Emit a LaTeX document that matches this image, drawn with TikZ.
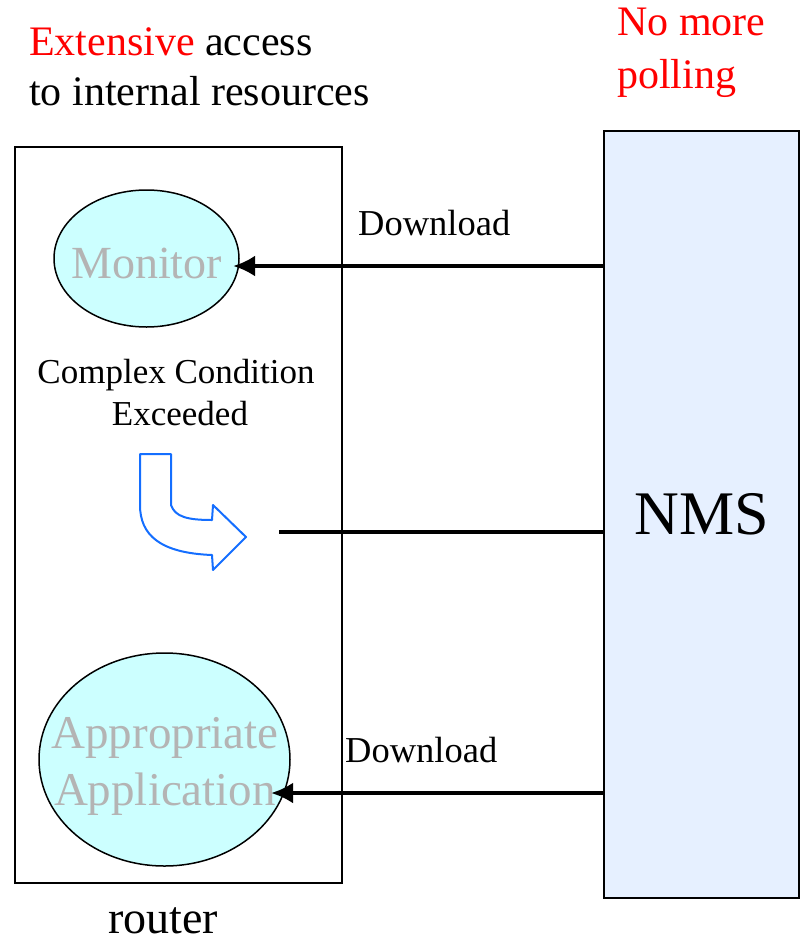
\documentclass[tikz,border=0pt]{standalone}
\usepackage{fontspec}
\setmainfont{Liberation Serif}
\usetikzlibrary{arrows.meta,shapes.geometric}

\definecolor{cellcyan}{RGB}{204,255,255}
\definecolor{nmsblue}{RGB}{230,240,255}
\definecolor{labelgray}{RGB}{180,180,180}
\definecolor{turnblue}{RGB}{20,110,255}

\tikzset{
  txt/.style={inner sep=0pt, anchor=base west},
  unit/.style={ellipse, draw, line width=1.5pt, fill=cellcyan, inner sep=0pt},
  unitlbl/.style={text=labelgray, inner sep=0pt, align=center},
  dl/.style={line width=4pt, -{Latex[length=22pt,width=21pt]}}
}

\begin{document}
\begin{tikzpicture}[x=1pt,y=-1pt]
\useasboundingbox (0,0) rectangle (801,943);

\node[draw, line width=2pt, minimum width=327pt, minimum height=736pt] (router) at (178.5,515) {};
\node[draw, line width=2.5pt, fill=nmsblue, minimum width=195pt, minimum height=767pt,
  font=\fontsize{62}{70}\selectfont] (nms) at (701.5,514.5) {NMS};

\node[unit, minimum width=185pt, minimum height=137pt] (mon) at (146.5,258.5) {};
\node[unitlbl, font=\fontsize{46}{52}\selectfont] (monlbl) at (146.5,263) {Monitor};
\node[unit, minimum width=251pt, minimum height=213pt] (app) at (164.5,759.5) {};
\node[unitlbl, font=\fontsize{47}{57}\selectfont] (applbl) at (165,766) {Appropriate\\Application};

\node[txt, font=\fontsize{42}{50}\selectfont] (ext) at (29,55) {\textcolor{red}{Extensive} access};
\node[txt, font=\fontsize{42}{50}\selectfont] (res) at (29,105) {to internal resources};
\node[txt, text=red, font=\fontsize{42}{50}\selectfont] (nomore) at (617,35) {No more};
\node[txt, text=red, font=\fontsize{42}{50}\selectfont] (poll) at (617,88) {polling};

\node[txt, anchor=base, font=\fontsize{35}{42}\selectfont] (cond) at (176,383) {Complex Condition};
\node[txt, anchor=base, font=\fontsize{35}{42}\selectfont] (exc) at (180,425) {Exceeded};
\node[txt, font=\fontsize{36.5}{42}\selectfont] (dl1) at (358,235) {Download};
\node[txt, font=\fontsize{36.5}{42}\selectfont] (dl2) at (345,762) {Download};
\node[txt, anchor=base, font=\fontsize{46}{54}\selectfont] (rtr) at (163,933) {router};

\coordinate (tipmon) at (233,266);
\coordinate (tipapp) at (271,793);
\coordinate (midend) at (279,532);

\draw[dl] (nms.west |- tipmon) -- (tipmon);
\draw[dl] (nms.west |- tipapp) -- (tipapp);
\draw[line width=4pt] (midend) -- (nms.west |- midend);

% turn arrow
\draw[turnblue, line width=2pt, line join=round]
  (140,454) -- (171,454) -- (171,505)
  .. controls (175,517) and (188,520) .. (212,520)
  -- (213,505) -- (246,537) -- (213,570) -- (212,555)
  .. controls (160,553) and (140,535) .. (140,505) -- cycle;

\end{tikzpicture}
\end{document}
